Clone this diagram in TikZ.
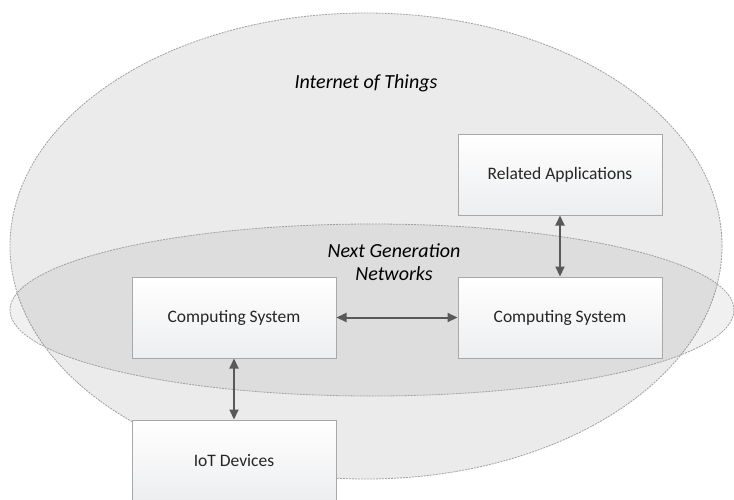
\documentclass[tikz,border=0pt]{standalone}
\usepackage{fontspec}
\setmainfont{Carlito}
\usetikzlibrary{shapes,arrows.meta,positioning}

\definecolor{areafill}{HTML}{EBEBEB}
\definecolor{arealine}{HTML}{A0A0A0}
\definecolor{boxline}{HTML}{A8A8A8}
\definecolor{boxshade}{HTML}{EDEEF0}
\definecolor{linkgray}{HTML}{595959}

\begin{document}
\begin{tikzpicture}[x=1pt, y=-1pt, node distance=61pt and 121pt, font=\fontsize{17.5}{23}\selectfont]
    \tikzset{
        area/.style     =   { ellipse
                            , draw=arealine
                            , line width=0.8pt
                            , dash pattern=on 2pt off 1pt
        }
        , areatext/.style = { font=\fontsize{20}{23}\selectfont\itshape
                            , align=center
        }
        , box/.style    =   { rectangle
                            , draw=boxline
                            , line width=1pt
                            , top color=white
                            , bottom color=boxshade
                            , text=black!85
                            , minimum width=204pt
                            , minimum height=81pt
        }
        , link/.style   =   { draw=linkgray
                            , line width=2pt
                            , {Triangle[length=10pt,width=9pt]}-{Triangle[length=10pt,width=9pt]}
        }
    }
    \clip (0,0) rectangle (734,499);

    % the two areas
    \node(iot)[area, fill=areafill, minimum width=712pt, minimum height=466pt] at (366,246) {};
    \node(ngn)[area, fill=black, fill opacity=0.06, minimum width=724pt, minimum height=172pt] at (372,310) {};

    \node(iottext)[areatext]  at (366,83)  {Internet of Things};
    \node(ngntext)[areatext]  at (394,262) {Next Generation\\Networks};

    % boxes
    \node(cs1)[box] at (234,317.5)   {Computing System};
    \node(cs2)[box, right=of cs1]    {Computing System};
    \node(apps)[box, above=of cs2]   {Related Applications};
    \node(dev)[box, below=of cs1]    {IoT Devices};

    \draw[link] (cs1) -- (cs2);
    \draw[link] (cs2) -- (apps);
    \draw[link] (cs1) -- (dev);
\end{tikzpicture}
\end{document}
